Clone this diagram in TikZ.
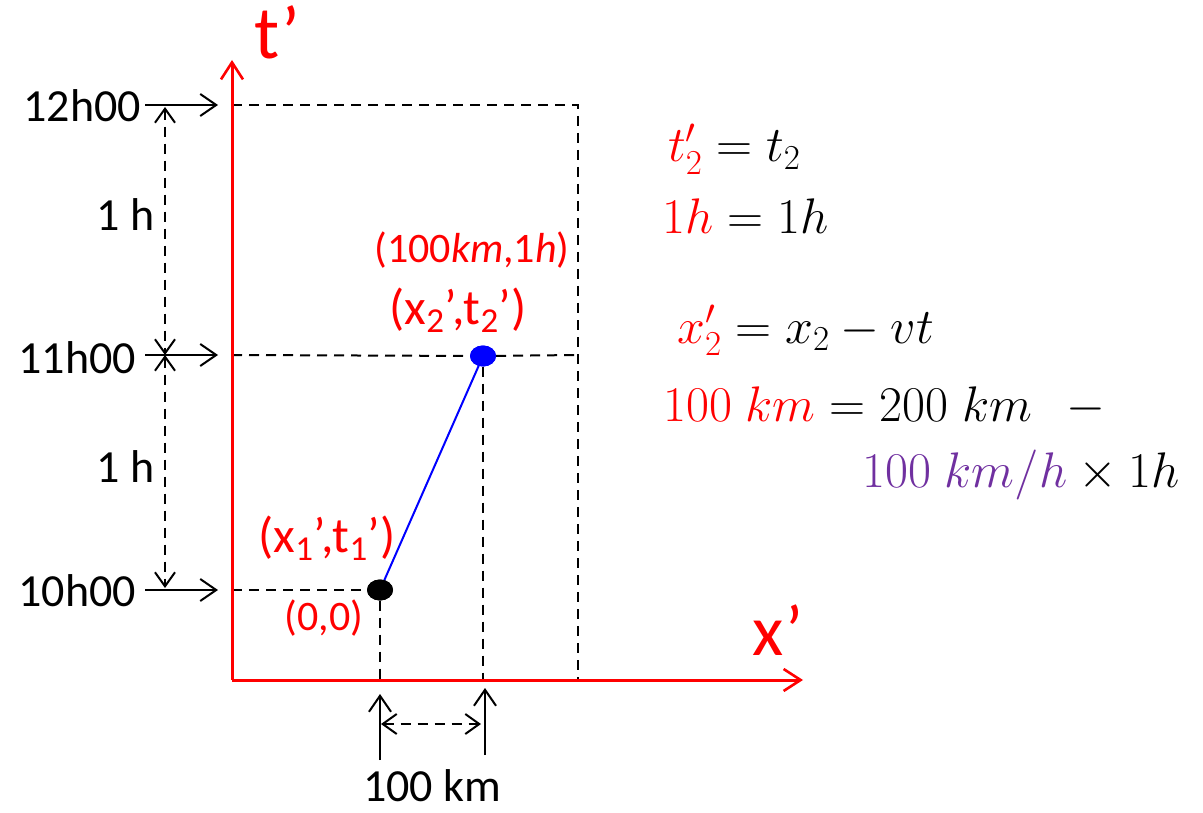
\RequirePackage{fix-cm}
\documentclass[tikz,border=0pt]{standalone}
\usepackage{amsmath}
\usepackage[no-math]{fontspec}
\setmainfont{Carlito}
\usetikzlibrary{arrows.meta,shapes.geometric}
\definecolor{axisred}{RGB}{255,0,0}
\definecolor{eventblue}{RGB}{0,0,255}
\definecolor{speedpurple}{RGB}{112,48,160}
\tikzset{
  axisline/.style={draw=axisred,line width=3pt,-{Straight Barb[length=17pt,width=22pt,line width=2.6pt]}},
  pointer/.style={line width=2pt,-{Straight Barb[length=16pt,width=22pt]}},
  guide/.style={line width=2pt,dash pattern=on 10pt off 7pt},
  span/.style={guide,{Straight Barb[length=14pt,width=20pt]}-{Straight Barb[length=14pt,width=20pt]}},
  event/.style={ellipse,minimum width=26pt,minimum height=21pt,inner sep=0pt},
  lbl/.style={inner sep=0pt,font=\fontsize{46}{52}\selectfont},
  redlbl/.style={inner sep=0pt,text=axisred,font=\fontsize{50}{56}\selectfont},
  eqn/.style={inner sep=0pt,anchor=base west,font=\fontsize{50}{56}\selectfont}
}

\begin{document}
\begin{tikzpicture}[x=1pt,y=-1pt]
  \useasboundingbox (0,0) rectangle (1203,813);
  % axes
  \coordinate (O) at (232,680);
  \coordinate (ttip) at (232,60);
  \coordinate (xtip) at (803,680);
  \node[inner sep=0pt,anchor=base west,text=axisred,font=\fontsize{75}{80}\selectfont] (tlab) at (254,59) {t’};
  \node[inner sep=0pt,anchor=base west,text=axisred,font=\fontsize{72}{80}\selectfont] (xlab) at (752,655) {x’};

  % hour marks
  \node[lbl,anchor=east] (h12) at (141,106) {12h00};
  \node[lbl,anchor=east] (h11) at (136,358) {11h00};
  \node[lbl,anchor=east] (h10) at (136,591) {10h00};
  \coordinate (a12) at (218,105);
  \coordinate (a11) at (218,355);
  \coordinate (a10) at (218,590);
  \coordinate (c12) at (232,105);
  \coordinate (c11) at (232,355);
  \coordinate (c10) at (232,590);
  \coordinate (r12) at (578,105);
  \coordinate (r11) at (578,355);
  \coordinate (rO) at (578,680);
  \draw[pointer] (h12.east) ++(4,-1) -- (a12);
  \draw[pointer] (h11.east) ++(9,-3) -- (a11);
  \draw[pointer] (h10.east) ++(9,-1) -- (a10);

  % events
  \node[event,fill=black] (e1) at (380,590) {};
  \node[event,fill=eventblue] (e2) at (483,356) {};
  \coordinate (f1) at (380,680);
  \coordinate (f2) at (483,680);

  % guides
  \draw[guide] (c12) -- (r12) -- (rO);
  \draw[guide] (c11) -- (e2) -- (r11);
  \draw[guide] (c10) -- (e1);
  \draw[guide] (e1) -- (f1);
  \draw[guide] (e2) -- (f2);
  \draw[eventblue,line width=2pt] (e1.center) -- (e2.center);
  \node[event,fill=black] at (e1) {};
  \node[event,fill=eventblue] at (e2) {};

  \draw[axisline] (O) -- (ttip);
  \draw[axisline] (O) -- (xtip);

  % intervals
  \coordinate (d12) at (165,107);
  \coordinate (d11) at (165,355);
  \coordinate (d10) at (165,588);
  \draw[span] (d12) -- (d11);
  \draw[span] (d11) -- (d10);
  \node[lbl,anchor=east] (hA) at (155,215) {1 h};
  \node[lbl,anchor=east] (hB) at (155,467) {1 h};

  \coordinate (b1) at (380,760);
  \coordinate (b1t) at (380,694);
  \coordinate (b2) at (485,755);
  \coordinate (b2t) at (485,688);
  \draw[pointer] (b1) -- (b1t);
  \draw[pointer] (b2) -- (b2t);
  \coordinate (k1) at (381,724);
  \coordinate (k2) at (481,724);
  \draw[span] (k1) -- (k2);
  \node[lbl] (km) at (432,786) {100 km};

  % event labels
  \node[redlbl] (p1) at (327,538) {(x\textsubscript{1}’,t\textsubscript{1}’)};
  \node[redlbl,font=\fontsize{42}{46}\selectfont] (p1c) at (324,618) {(0,0)};
  \node[redlbl,font=\fontsize{42}{46}\selectfont] (p2c) at (472,250) {(100\textit{km},1\textit{h})};
  \node[redlbl] (p2) at (458,310) {(x\textsubscript{2}’,t\textsubscript{2}’)};

  % transformation
  \node[eqn] (q1) at (668,162) {$\textcolor{axisred}{t_2'} = t_2$};
  \node[eqn] (q2) at (662,234) {$\textcolor{axisred}{1h} = 1h$};
  \node[eqn] (q3) at (677,343) {$\textcolor{axisred}{x_2'} = x_2 - vt$};
  \node[eqn] (q4) at (663,421) {$\textcolor{axisred}{100\;km} = 200\;km\ \ \ -$};
  \node[eqn] (q5) at (862,487) {$\textcolor{speedpurple}{100\;km/h} \times 1h$};
\end{tikzpicture}
\end{document}
